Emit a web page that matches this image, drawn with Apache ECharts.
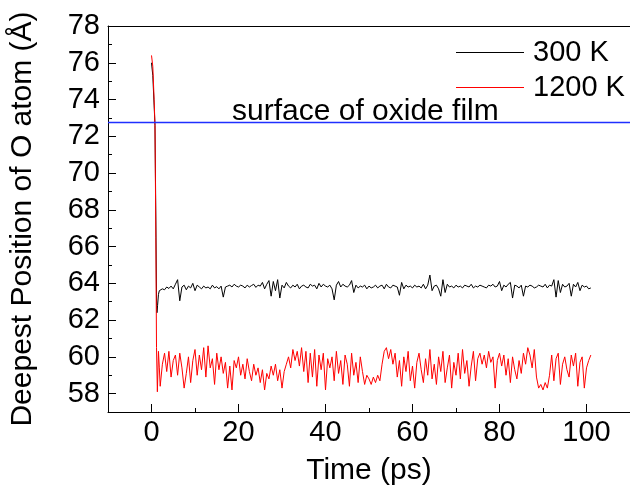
<!DOCTYPE html>
<html>
<head>
<meta charset="utf-8">
<script src="https://cdn.jsdelivr.net/npm/echarts@6/dist/echarts.min.js"></script>
<style>html,body{margin:0;padding:0;background:#fff}#c{width:630px;height:492px}</style>
</head>
<body>
<div id="c"></div>
<script>
// ---- data ----
const seriesNames = ['300 K', '1200 K'];
// initial drop (ps, Å)
const drop300T = [0, 0.3, 0.6, 0.8, 1.0, 1.15, 1.25, 1.4, 1.6, 1.8];
const drop300V = [76.0, 75.3, 73.7, 72.6, 67.5, 63.2, 62.4, 62.8, 63.4, 63.6];
const drop1200T = [0, 0.3, 0.6, 0.8, 1.0, 1.15, 1.35, 1.6, 1.8];
const drop1200V = [76.4, 75.8, 74.0, 72.6, 66.5, 60.5, 58.1, 60.3, 59.4];
// steady part, sampled every 0.5 ps from 2 ps
const steadyStart = 2.0;
const steadyStep = 0.5;
const steady300 = [
  63.55, 63.7, 63.65, 63.8, 63.72, 63.85, 63.7, 63.95, 64.2, 63.05,
  63.8, 63.9, 63.65, 63.85, 63.75, 64.0, 63.6, 63.9, 63.8, 63.7,
  63.85, 63.75, 63.8, 63.7, 63.9, 63.75, 63.82, 63.7, 63.85, 63.25,
  63.8, 63.85, 63.9, 63.8, 63.95, 63.85, 63.8, 63.9, 63.85, 63.75,
  63.9, 63.8, 63.88, 63.95, 63.78, 63.9, 63.85, 64.05, 63.7, 63.95,
  64.15, 63.3, 64.1, 63.6, 64.2, 63.2, 63.9, 63.75, 64.05, 63.85,
  63.75, 63.9, 63.8, 63.95, 63.7, 63.85, 63.9, 63.8, 63.75, 63.95,
  63.85, 63.9, 63.7, 64.0, 63.8, 63.95, 63.85, 63.8, 63.9, 63.7,
  63.1, 63.9, 64.1, 63.8, 63.95, 63.85, 63.8, 63.9, 64.15, 63.5,
  63.9, 63.75, 63.85, 63.8, 63.9, 63.7, 63.85, 63.75, 63.8, 63.9,
  63.75, 63.85, 63.9, 63.7, 63.95, 63.8, 63.75, 63.9, 63.85, 63.8,
  63.35, 64.05, 63.7, 63.9, 63.8, 63.85, 63.75, 63.9, 63.8, 63.85,
  63.75, 63.95, 63.7, 63.9, 64.45, 63.6, 63.85, 63.9, 63.7, 63.3,
  64.2, 63.5, 63.95, 63.8, 63.85, 63.75, 63.9, 63.8, 63.85, 63.75,
  63.9, 63.85, 63.8, 63.95, 63.75, 63.85, 63.8, 63.9, 63.85, 63.8,
  63.75, 63.9, 63.85, 63.95, 63.8, 63.85, 64.1, 63.6, 63.9, 63.8,
  63.95, 64.05, 63.2, 63.9, 63.85, 63.75, 63.9, 63.3, 63.85, 63.8,
  63.9, 63.85, 63.75, 63.8, 63.9, 63.85, 63.8, 63.95, 63.75, 63.9,
  63.85, 64.2, 63.25, 64.15, 63.5, 63.95, 63.8, 63.85, 64.0, 63.3,
  63.95, 63.8, 64.05, 63.6, 63.9, 63.8, 63.85, 63.7, 63.75
];
const steady1200 = [
  58.4, 59.6, 60.2, 59.2, 60.3, 58.9, 59.8, 60.1, 59.0, 60.2,
  59.4, 58.3, 59.1, 60.0, 58.6, 59.8, 60.4, 59.0, 60.1, 59.3,
  60.5, 58.9, 60.6, 59.4, 59.9, 58.5, 60.2, 59.3, 60.0, 59.1,
  59.7, 58.3, 59.5, 58.2, 59.8, 59.4, 60.0, 59.0, 59.6, 58.8,
  59.9, 59.2, 58.7, 59.6, 59.0, 59.4, 58.6, 59.3, 58.2, 59.1,
  58.8, 59.5, 59.0, 59.6, 58.7, 59.3, 58.3, 59.2, 59.6, 60.0,
  59.4, 60.4, 59.8, 60.3, 59.5, 60.5, 59.2, 60.3, 58.6, 60.2,
  58.9, 60.4, 58.4, 60.1, 59.3, 60.2, 58.2, 59.9, 59.4, 60.0,
  58.7, 60.3, 59.1, 59.8, 58.5, 60.1, 59.6, 58.4, 60.2, 59.0,
  59.7, 58.6, 60.0, 59.2, 58.5, 59.0, 58.8, 58.5, 58.9, 58.6,
  59.0, 58.7, 59.6, 60.3, 60.5, 59.9, 60.4, 59.6, 60.2, 58.9,
  59.8, 58.4, 60.0, 59.2, 60.3, 58.7, 59.5, 58.3, 59.7, 60.2,
  59.3, 58.6, 59.9, 59.0, 60.4, 58.8, 59.6, 58.5, 60.0, 59.2,
  60.3, 58.6, 59.4, 60.1, 58.3, 59.7, 59.0, 60.2, 58.8, 60.4,
  59.1, 59.8, 58.4, 59.5, 60.3, 58.7, 59.9, 60.2, 59.6, 60.1,
  59.4, 60.3, 59.7, 60.0, 58.3, 59.8, 60.2, 59.5, 60.1, 59.0,
  59.9, 58.6, 60.0, 59.3, 58.8, 59.8, 59.1, 60.2, 59.6, 60.5,
  60.1, 59.4, 60.4, 58.9, 58.3, 58.5, 58.2, 58.6, 58.3, 59.0,
  60.1, 58.7, 59.9, 60.2, 58.5, 59.6, 60.0, 59.3, 58.9, 60.1,
  59.5, 60.2, 58.4, 59.7, 60.0, 58.3, 59.4, 59.8, 60.1
];
const surfaceLevel = 72.75;
const surfaceLabel = 'surface of oxide film';
const xLabels = [0, 20, 40, 60, 80, 100];
const yLabels = [58, 60, 62, 64, 66, 68, 70, 72, 74, 76, 78];
const xTitle = 'Time (ps)';
const yTitle = 'Deepest Position of O atom (Å)';

function build(dT, dV, steady) {
  const out = dT.map((t, i) => [t, dV[i]]);
  steady.forEach((v, i) => out.push([steadyStart + i * steadyStep, v]));
  return out;
}

const FONT = 'Liberation Sans, Arial, Helvetica, sans-serif';
const chart = echarts.init(document.getElementById('c'), null, {renderer: 'canvas'});
const BLACK_LINE = {show: true, onZero: false, lineStyle: {color: '#000', width: 1}};

chart.setOption({
  animation: false,
  backgroundColor: '#fff',
  textStyle: {fontFamily: FONT},
  grid: {left: 107, right: 0, top: 26, bottom: 80, containLabel: false},
  legend: {
    data: seriesNames.map(n => ({name: n, icon: 'rect'})),
    orient: 'vertical', left: 456, top: 36, padding: 0,
    itemWidth: 68, itemHeight: 1, itemGap: 2,
    textStyle: {fontSize: 29, color: '#000', fontFamily: FONT, lineHeight: 33, padding: [0, 0, 0, 4]}
  },
  xAxis: [
    {
      // main x axis: short ticks at odd tens, long (minor-tick option) ticks at 0,20,...,100
      type: 'value', min: -10, max: 110, interval: 20, position: 'bottom',
      splitLine: {show: false}, axisLine: BLACK_LINE,
      name: xTitle, nameLocation: 'middle', nameGap: 44,
      nameTextStyle: {fontSize: 30, color: '#000', fontFamily: FONT},
      axisTick: {show: true, inside: true, length: 4, lineStyle: {color: '#000'}},
      minorTick: {show: true, splitNumber: 2, length: 8, lineStyle: {color: '#000'}},
      axisLabel: {show: true, customValues: xLabels, fontSize: 29, color: '#000', margin: 6, fontFamily: FONT}
    },
    {
      type: 'value', min: -10, max: 110, position: 'top', splitLine: {show: false},
      axisLine: BLACK_LINE, axisTick: {show: false}, axisLabel: {show: false}
    }
  ],
  yAxis: [
    {
      // main y axis: short ticks at every integer
      type: 'value', min: 57, max: 78, interval: 1, position: 'left',
      splitLine: {show: false}, axisLine: BLACK_LINE,
      name: yTitle, nameLocation: 'middle', nameGap: 70, nameRotate: 90,
      nameTextStyle: {fontSize: 30, color: '#000', fontFamily: FONT},
      axisTick: {show: true, inside: true, length: 4, lineStyle: {color: '#000'}},
      axisLabel: {show: true, customValues: yLabels, fontSize: 29, color: '#000', margin: 8, fontFamily: FONT}
    },
    {
      // helper axis (negated + inverted) giving long ticks at even values
      type: 'value', min: -78, max: -57, interval: 2, inverse: true, position: 'left',
      splitLine: {show: false}, axisLine: {show: false, onZero: false},
      axisTick: {show: true, inside: true, length: 8, lineStyle: {color: '#000'}},
      axisLabel: {show: false}
    }
  ],
  graphic: [{
    type: 'text', left: 232, top: 97, z: 10,
    style: {text: surfaceLabel, font: '30px ' + FONT, fill: '#000'}
  }],
  series: [
    {
      name: seriesNames[1], type: 'line', xAxisIndex: 0, yAxisIndex: 0,
      data: build(drop1200T, drop1200V, steady1200),
      showSymbol: false, symbol: 'none', lineStyle: {color: '#ff0000', width: 1}, itemStyle: {color: '#ff0000'},
      z: 2
    },
    {
      name: seriesNames[0], type: 'line', xAxisIndex: 0, yAxisIndex: 0,
      data: build(drop300T, drop300V, steady300),
      showSymbol: false, symbol: 'none', lineStyle: {color: '#000', width: 1}, itemStyle: {color: '#000'},
      z: 1
    },
    {
      name: 'surface', type: 'line', xAxisIndex: 0, yAxisIndex: 0,
      data: [[-10, surfaceLevel], [110, surfaceLevel]],
      showSymbol: false, symbol: 'none', lineStyle: {color: '#1f2fff', width: 1.5}, z: 3, silent: true
    }
  ]
});
</script>
</body>
</html>
